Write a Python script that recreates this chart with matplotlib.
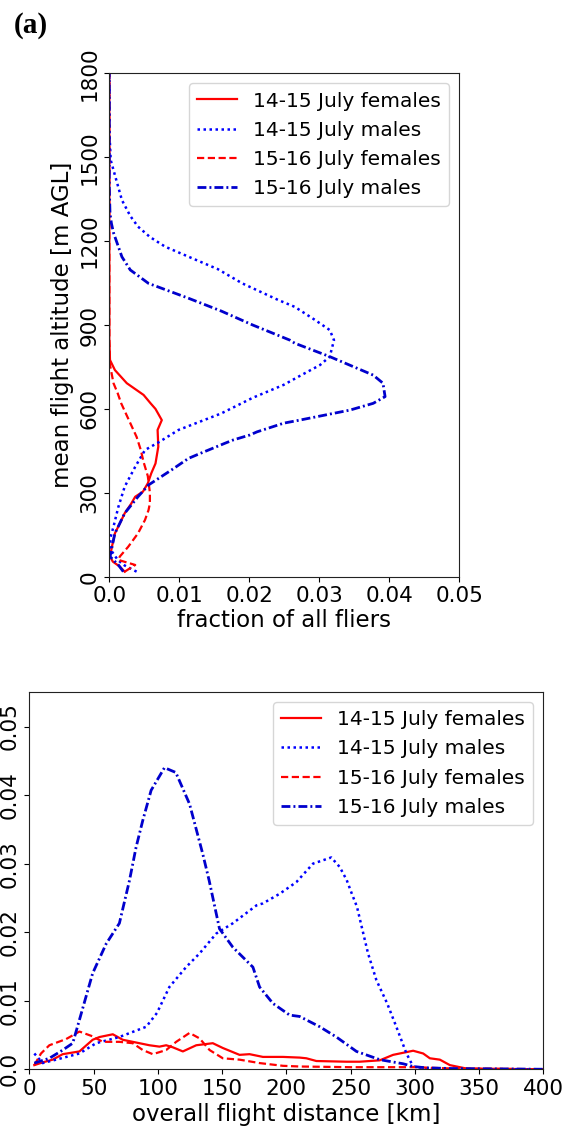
import numpy as np
import matplotlib
matplotlib.use("Agg")
import matplotlib.pyplot as plt

labels = ["14-15 July females", "14-15 July males", "15-16 July females", "15-16 July males"]

# (a) top: altitude profiles, fraction of all fliers vs mean altitude [m AGL]
alt_f1415 = [18, 36, 54, 72, 110, 155, 190, 227, 260, 286, 304, 334, 370, 405, 465, 525, 560, 600, 620, 650, 692, 739, 775, 850, 1800]
frac_f1415 = [0.0022, 0.0015, 0.0005, 0.0001, 0.0004, 0.0008, 0.0015, 0.0022, 0.0031, 0.0037, 0.0048, 0.0055, 0.0060, 0.0066,
              0.0070, 0.0069, 0.0075, 0.0066, 0.0059, 0.0049, 0.0025, 0.0008, 0.0001, 0.0, 0.0]

alt_m1415 = [18, 40, 60, 100, 143, 179, 250, 322, 393, 453, 483, 525, 584, 640, 686, 715, 757, 787, 846, 882, 918, 965,
             990, 1049, 1100, 1135, 1180, 1215, 1252, 1290, 1347, 1490, 1600, 1800]
frac_m1415 = [0.0039, 0.0022, 0.0012, 0.0001, 0.0002, 0.0006, 0.0013, 0.0022, 0.0037, 0.0051, 0.0072, 0.0099, 0.016, 0.0205,
              0.0249, 0.027, 0.0301, 0.0315, 0.0321, 0.0315, 0.0294, 0.0265, 0.0241, 0.0190, 0.0155, 0.0122, 0.0080,
              0.0058, 0.0041, 0.0030, 0.0018, 0.0002, 0.0, 0.0]

alt_f1516 = [18, 42, 60, 72, 107, 155, 203, 238, 262, 300, 360, 410, 453, 500, 560, 620, 656, 692, 757, 850, 1800]
frac_f1516 = [0.0022, 0.0037, 0.0013, 0.0015, 0.0027, 0.0041, 0.0051, 0.0056, 0.0058, 0.0058, 0.0055, 0.0049, 0.0045, 0.0039,
              0.0028, 0.0017, 0.0012, 0.0006, 0.0001, 0.0, 0.0]

alt_m1516 = [18, 42, 72, 155, 227, 286, 328, 382, 423, 441, 477, 489, 507, 518, 549, 560, 584, 596, 620, 644, 692, 721, 787,
             835, 846, 900, 950, 996, 1049, 1097, 1144, 1180, 1230, 1264, 1300, 1394, 1800]
frac_m1516 = [0.002, 0.0013, 0.0001, 0.0008, 0.0022, 0.0041, 0.0056, 0.0089, 0.0113, 0.013, 0.0165, 0.0177, 0.0201, 0.0211,
              0.0249, 0.0272, 0.032, 0.0344, 0.0377, 0.0394, 0.0391, 0.0377, 0.0315, 0.0265, 0.0258, 0.0205, 0.0160, 0.0113,
              0.0056, 0.0030, 0.0018, 0.0013, 0.0006, 0.0003, 0.0001, 0.0, 0.0]

# bottom: overall flight distance [km]
dist_f1415 = [3.9, 10.4, 18.2, 26, 39, 49.3, 54.6, 65, 72.7, 85.7, 93.5, 101.3, 106.5, 111.7, 119.5, 129.9, 142.8, 150.6,
              163.6, 171.4, 181.8, 197.4, 210.4, 215.6, 223.4, 246.8, 257.1, 272.7, 283.1, 298.7, 306.5, 311.7, 319.5,
              327.3, 340.3, 400]
dfrac_f1415 = [0.0006, 0.001, 0.0014, 0.0022, 0.0026, 0.0043, 0.0047, 0.0051, 0.0043, 0.0038, 0.0035, 0.0033, 0.0035,
               0.0032, 0.0026, 0.0035, 0.0038, 0.0031, 0.0021, 0.0022, 0.0018, 0.0018, 0.0017, 0.0016, 0.0012, 0.0011,
               0.0011, 0.0013, 0.0021, 0.0027, 0.0023, 0.0016, 0.0014, 0.0006, 0.0001, 0.0]

dist_m1415 = [3.9, 10.4, 20.8, 39, 52, 70, 91, 99.3, 109, 122, 132.5, 145.5, 158.4, 176.7, 181.8, 194.8, 207.8, 220.8, 235,
              241.6, 247, 251, 255, 257.5, 263.6, 270.1, 278.5, 285.6, 293.5, 298.7, 310, 330, 400]
dfrac_m1415 = [0.0023, 0.0009, 0.0014, 0.0023, 0.0038, 0.0047, 0.0062, 0.0082, 0.012, 0.0149, 0.0169, 0.0198, 0.0213,
               0.0239, 0.0242, 0.0256, 0.0273, 0.030, 0.0309, 0.0295, 0.0276, 0.0256, 0.0237, 0.0217, 0.0169, 0.013,
               0.0096, 0.0062, 0.0023, 0.0004, 0.0001, 0.0, 0.0]

dist_f1516 = [3.9, 9.1, 15.6, 28.6, 39, 49.3, 57.1, 70.1, 80.5, 88.3, 96.1, 106.5, 114.3, 124.7, 132.5, 140.3, 150.6,
              163.6, 179.2, 197.4, 210.4, 250, 300, 330, 400]
dfrac_f1516 = [0.0006, 0.0023, 0.0035, 0.0044, 0.0055, 0.0048, 0.004, 0.004, 0.0038, 0.0028, 0.0022, 0.0028, 0.004,
               0.0053, 0.0045, 0.0028, 0.0016, 0.0014, 0.0009, 0.0005, 0.0004, 0.0003, 0.0003, 0.0001, 0.0]

dist_m1516 = [3.9, 15.6, 26, 33.8, 39, 49.3, 59.8, 70.1, 77.9, 83.1, 88.3, 94.8, 105.2, 114, 124.7, 135, 140, 148, 158.4,
              174, 179.2, 189.6, 202.6, 210.4, 226, 239, 254.6, 272.7, 290.9, 298.7, 309, 330, 400]
dfrac_m1516 = [0.0009, 0.0016, 0.0028, 0.0038, 0.0072, 0.014, 0.0183, 0.0213, 0.0275, 0.0324, 0.0363, 0.0407, 0.0440,
               0.0433, 0.0387, 0.0314, 0.0275, 0.0205, 0.0178, 0.0149, 0.012, 0.0096, 0.0079, 0.0077, 0.0062, 0.0047,
               0.0026, 0.0014, 0.0008, 0.0004, 0.0002, 0.0001, 0.0]

frac_ticks = [0.0, 0.01, 0.02, 0.03, 0.04, 0.05]
frac_ticklabels = ["0.0", "0.01", "0.02", "0.03", "0.04", "0.05"]
alt_ticks = [0, 300, 600, 900, 1200, 1500, 1800]
dist_ticks = [0, 50, 100, 150, 200, 250, 300, 350, 400]

styles = [
    dict(color="red", lw=1.6, linestyle="-"),
    dict(color="#0000ff", lw=1.8, dashes=(1, 1.4)),
    dict(color="red", lw=1.6, dashes=(3.25, 1.6)),
    dict(color="#0000cd", lw=2.0, dashes=(3.2, 1.1, 0.7, 1.1)),
]

tick_fs = 15.5
label_fs = 16.5
legend_fs = 14.5

fig = plt.figure(figsize=(5.78, 11.31), dpi=100)

ax1 = fig.add_axes([0.1891, 0.4901, 0.6055, 0.4450])
top_data = [(frac_f1415, alt_f1415), (frac_m1415, alt_m1415), (frac_f1516, alt_f1516), (frac_m1516, alt_m1516)]
for (x, y), st, lab in zip(top_data, styles, labels):
    ax1.plot(x, y, label=lab, **st)
ax1.set_xlim(0, 0.05)
ax1.set_ylim(0, 1800)
ax1.set_xticks(frac_ticks)
ax1.set_xticklabels(frac_ticklabels, fontsize=tick_fs)
ax1.set_yticks(alt_ticks)
ax1.set_yticklabels([str(t) for t in alt_ticks], fontsize=tick_fs, rotation=90, va="center")
ax1.set_xlabel("fraction of all fliers", fontsize=label_fs, labelpad=2)
ax1.set_ylabel("mean flight altitude [m AGL]", fontsize=label_fs, labelpad=4)
ax1.legend(loc="upper right", fontsize=legend_fs, labelspacing=0.5, handlelength=2.0)

ax2 = fig.add_axes([0.0507, 0.0546, 0.8893, 0.3333])
bot_data = [(dist_f1415, dfrac_f1415), (dist_m1415, dfrac_m1415), (dist_f1516, dfrac_f1516), (dist_m1516, dfrac_m1516)]
for (x, y), st, lab in zip(bot_data, styles, labels):
    ax2.plot(x, y, label=lab, **st)
ax2.set_xlim(0, 400)
ax2.set_ylim(0, 0.055)
ax2.set_xticks(dist_ticks)
ax2.set_xticklabels([str(t) for t in dist_ticks], fontsize=tick_fs)
ax2.set_yticks(frac_ticks)
ax2.set_yticklabels(frac_ticklabels, fontsize=tick_fs, rotation=90, va="center")
ax2.set_xlabel("overall flight distance [km]", fontsize=label_fs, labelpad=3)
ax2.legend(loc="upper right", fontsize=legend_fs, labelspacing=0.5, handlelength=2.0)

for ax in (ax1, ax2):
    for sp in ax.spines.values():
        sp.set_color("#222222")

fig.text(0.024, 0.9895, "(a)", fontsize=21, fontweight="bold", family="Liberation Serif", va="top", ha="left")

fig.savefig("out.png", dpi=100)
